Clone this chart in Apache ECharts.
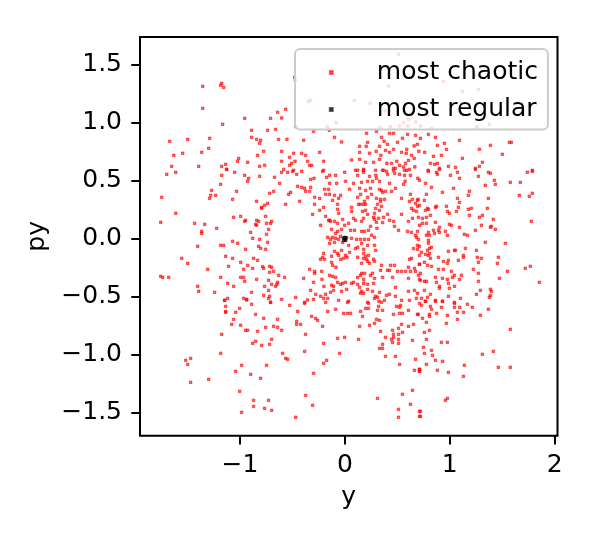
<!DOCTYPE html>
<html>
<head>
<meta charset="utf-8">
<script src="https://cdn.jsdelivr.net/npm/echarts@6/dist/echarts.min.js"></script>
<style>
  html, body { margin: 0; padding: 0; background: #fff; }
  #chart { width: 594px; height: 540px; }
</style>
</head>
<body>
<div id="chart"></div>
<script>
// axis limits and ticks
const xRange = [-1.954, 2.027];
const yRange = [-1.696, 1.741];
const xTicks = [-1, 0, 1, 2];
const yTicks = [-1.5, -1, -0.5, 0, 0.5, 1, 1.5];
const xName = 'y';
const yName = 'py';
const names = ['most chaotic', 'most regular'];

// most chaotic, top band (py > 0.6)
const chaoticTop = [
  [-1.356,1.316],[-1.175,1.342],[-1.185,1.325],[-1.156,1.307],[-1.356,1.126],[-0.956,1.040],[-0.642,1.092],
  [-0.709,1.040],[-1.166,0.989],[-0.890,0.937],[-0.737,0.937],[-0.661,0.945],[-0.890,0.876],[-0.842,0.859],
  [-0.804,0.851],[-0.813,0.825],[-0.633,0.859],[-1.671,0.842],[-1.499,0.859],[-1.290,0.868],[-1.299,0.782],
  [-1.366,0.747],[-1.547,0.739],[-1.632,0.721],[-0.775,0.756],[-0.833,0.721],[-1.013,0.695],[-1.023,0.670],
  [-0.928,0.661],[-1.137,0.644],[-1.175,0.626],[-1.128,0.600],[-1.394,0.626],[-1.652,0.626],[-0.813,0.626],
  [-0.766,0.635],
  [-0.479,1.394],[-0.473,1.368],[0.511,1.592],[0.416,1.420],[0.416,1.319],[-0.330,1.195],[-0.349,1.187],
  [0.089,1.195],[0.241,1.170],[0.384,1.103],[0.606,1.032],[0.632,1.080],[0.559,1.003],[-0.083,1.003],
  [-0.168,0.968],[0.336,0.960],[0.432,0.968],[0.521,0.974],[0.600,0.974],[0.676,1.009],[-0.467,0.968],
  [-0.565,1.118],[-0.603,1.043],[-0.553,0.859],[-0.394,0.851],[-0.299,0.928],[-0.149,0.937],[-0.099,0.876],
  [-0.032,0.836],[0.206,0.911],[0.301,0.928],[0.349,0.876],[0.425,0.911],[0.463,0.911],[0.501,0.833],
  [0.549,0.868],[0.597,0.902],[0.673,0.894],[0.692,0.816],[0.660,0.802],[0.590,0.773],[-0.603,0.756],
  [-0.489,0.739],[-0.413,0.739],[-0.375,0.721],[-0.527,0.704],[-0.241,0.747],[0.140,0.799],[0.216,0.833],
  [0.203,0.799],[0.330,0.799],[0.406,0.816],[0.374,0.842],[0.387,0.764],[0.425,0.747],[0.298,0.756],
  [0.140,0.747],[0.235,0.739],[0.343,0.721],[0.463,0.773],[0.540,0.747],[0.584,0.739],[0.635,0.721],
  [0.705,0.756],[-0.508,0.652],[-0.527,0.635],[-0.476,0.670],[-0.356,0.670],[-0.337,0.635],[-0.318,0.635],
  [-0.603,0.670],[-0.203,0.670],[0.063,0.681],[0.140,0.687],[0.197,0.661],[0.273,0.661],[0.330,0.687],
  [0.400,0.652],[0.444,0.652],[0.495,0.670],[0.578,0.652],[0.606,0.678],[0.521,0.635],[0.660,0.695],
  [0.667,0.621],[0.463,0.609],[0.559,0.621],[-0.584,0.600],[-0.489,0.592],[-0.203,0.592],[0.101,0.592],
  [0.178,0.600],[0.292,0.592],[0.368,0.592],[0.482,0.609],[0.590,0.592],
  [0.942,1.359],[1.238,1.411],[1.120,1.273],[1.273,1.290],[0.787,1.066],[0.723,0.974],[0.825,0.954],
  [1.257,0.966],[1.377,0.989],[0.720,0.868],[0.796,0.902],[0.863,0.876],[0.882,0.807],[0.949,0.825],
  [0.968,0.773],[0.761,0.747],[0.844,0.713],[0.920,0.721],[1.092,0.851],[1.282,0.773],[1.387,0.807],
  [1.501,0.730],[1.568,0.833],[1.587,0.833],[1.120,0.695],[1.311,0.661],[1.282,0.626],[1.244,0.609],
  [1.054,0.618],[0.987,0.626],[0.901,0.609],[0.882,0.652],[0.815,0.652],[0.854,0.644],[1.787,0.592],
  [0.793,0.592]
];

// most chaotic, middle band (-0.55 < py < 0.6)
const chaoticMid = [
  [-1.699,0.557],[-1.613,0.575],[-1.128,0.600],[-1.175,0.549],[-1.052,0.575],[-0.956,0.549],[-0.918,0.523],
  [-0.928,0.497],[-0.813,0.540],[-0.671,0.532],[-0.623,0.480],[-1.185,0.471],[-1.271,0.419],[-1.280,0.376],
  [-1.233,0.376],[-1.290,0.350],[-1.033,0.411],[-1.071,0.342],[-1.747,0.359],[-1.613,0.221],[-1.756,0.144],
  [-1.433,0.135],[-1.337,0.126],[-1.366,0.066],[-1.366,0.049],[-1.223,0.092],[-0.842,0.325],[-0.718,0.394],
  [-0.680,0.411],[-0.737,0.307],[-0.766,0.290],[-0.794,0.273],[-0.794,0.264],[-1.061,0.187],[-0.994,0.195],
  [-0.947,0.161],[-0.956,0.152],[-0.842,0.161],[-0.823,0.152],[-0.852,0.126],[-0.842,0.118],[-0.756,0.195],
  [-0.699,0.152],[-0.709,0.135],[-0.747,0.135],[-0.728,0.083],[-0.899,0.057],[-0.747,0.040],[-0.880,0.006],
  [-0.813,-0.003],[-0.737,-0.029],[-1.071,-0.020],[-1.023,-0.037],[-1.185,-0.055],[-1.156,-0.055],
  [-1.404,-0.063],[-0.947,-0.089],[-0.823,-0.063],[-0.804,-0.081],[-0.756,-0.089],[-1.556,-0.167],
  [-1.499,-0.210],[-1.137,-0.149],[-1.071,-0.167],[-0.871,-0.167],[-0.833,-0.184],[-0.994,-0.201],
  [-0.928,-0.227],[-1.109,-0.236],[-1.309,-0.262],[-0.966,-0.262],[-0.880,-0.253],[-0.785,-0.239],
  [-0.775,-0.253],[-0.718,-0.236],[-0.699,-0.244],[-0.680,-0.279],[-0.718,-0.287],[-0.633,-0.313],
  [-1.756,-0.322],[-1.737,-0.331],[-1.680,-0.331],[-1.185,-0.331],[-0.994,-0.331],[-0.966,-0.331],
  [-0.956,-0.365],[-0.842,-0.348],[-0.728,-0.356],[-0.642,-0.374],[-0.648,-0.391],[-0.661,-0.408],
  [-0.699,-0.391],[-0.766,-0.408],[-1.118,-0.382],[-1.061,-0.408],[-1.404,-0.408],[-1.394,-0.451],
  [-1.242,-0.460],[-0.890,-0.460],[-0.728,-0.443],[-0.775,-0.486],[-0.718,-0.494],[-0.728,-0.512],
  [-1.118,-0.512],[-1.147,-0.529],[-0.966,-0.512],[-0.937,-0.520],[-0.709,-0.546],
  [-0.603,0.575],[-0.546,0.575],[-0.499,0.583],[-0.460,0.557],[-0.413,0.583],[-0.295,0.523],[-0.327,0.514],
  [-0.213,0.583],[-0.146,0.549],[-0.175,0.532],[-0.089,0.549],[-0.003,0.575],[0.121,0.592],[0.121,0.549],
  [0.178,0.575],[0.235,0.540],[0.295,0.549],[0.301,0.523],[0.178,0.592],[0.330,0.497],[0.216,0.497],
  [0.159,0.488],[0.263,0.497],[0.082,0.480],[0.006,0.497],[-0.146,0.480],[-0.079,0.480],[0.359,0.592],
  [0.397,0.583],[0.406,0.557],[0.473,0.566],[0.521,0.557],[0.568,0.592],[0.568,0.549],[0.616,0.600],
  [0.625,0.549],[0.695,0.523],[0.574,0.497],[0.463,0.592],[0.425,0.480],[0.559,0.471],
  [-0.451,0.454],[-0.413,0.445],[-0.384,0.437],[-0.375,0.411],[-0.337,0.411],[-0.327,0.445],[-0.518,0.402],
  [-0.537,0.385],[-0.565,0.299],[-0.432,0.325],[-0.289,0.359],[-0.241,0.350],[-0.194,0.428],[-0.156,0.428],
  [-0.184,0.385],[-0.146,0.385],[-0.099,0.376],[-0.118,0.333],[-0.060,0.350],[-0.041,0.376],[0.044,0.428],
  [0.140,0.437],[0.149,0.385],[0.121,0.359],[0.197,0.419],[0.244,0.437],[0.254,0.385],[0.216,0.359],
  [0.187,0.325],[0.301,0.350],[0.340,0.342],[0.378,0.342],[0.330,0.428],[0.349,0.419],[0.359,0.402],
  [0.387,0.411],[0.444,0.411],[0.482,0.437],[0.540,0.350],[0.625,0.385],[0.644,0.342],[0.616,0.325],
  [0.692,0.333],[0.673,0.307],[0.711,0.290],
  [-0.289,0.299],[-0.241,0.247],[-0.203,0.273],[-0.308,0.213],[-0.184,0.195],[-0.146,0.161],[-0.070,0.299],
  [-0.070,0.256],[-0.060,0.221],[0.063,0.273],[0.063,0.238],[0.082,0.178],[0.130,0.299],[0.149,0.299],
  [0.178,0.299],[0.197,0.299],[0.168,0.238],[0.197,0.247],[0.216,0.213],[0.282,0.221],[0.292,0.264],
  [0.330,0.247],[0.311,0.299],[0.340,0.325],[0.349,0.282],[0.273,0.187],[0.321,0.178],[0.368,0.187],
  [0.406,0.213],[0.425,0.161],[0.540,0.213],[0.635,0.264],[0.654,0.247],[0.682,0.238],[0.692,0.282],
  [0.701,0.187],[0.644,0.178],[0.606,0.152],
  [-0.232,0.118],[-0.156,0.161],[-0.137,0.152],[-0.099,0.152],[-0.070,0.135],[-0.022,0.169],[-0.003,0.118],
  [0.035,0.135],[0.101,0.161],[0.159,0.152],[0.178,0.178],[0.244,0.109],[0.225,0.075],[0.282,0.169],
  [0.301,0.144],[0.305,0.092],[0.359,0.141],[0.463,0.152],[0.473,0.109],[0.511,0.075],[0.597,0.066],
  [0.635,0.057],[0.692,0.066],[0.711,0.118],[0.159,0.066],[0.187,0.066],[0.092,0.075],[0.054,0.075],
  [-0.032,0.083],[-0.070,0.066],[-0.127,0.083],[-0.089,0.049],[0.673,0.032],
  [-0.165,0.014],[-0.118,0.014],[-0.137,-0.003],[-0.089,0.006],[-0.099,-0.029],[-0.146,-0.037],[-0.041,0.023],
  [-0.060,-0.003],[-0.022,-0.029],[0.035,-0.055],[0.063,0.006],[0.111,-0.003],[0.149,-0.003],[0.187,-0.003],
  [0.225,-0.003],[0.254,0.032],[0.282,0.014],[0.159,-0.037],[0.121,-0.072],[0.101,-0.083],[0.178,-0.089],
  [0.216,-0.055],[0.282,-0.055],[0.292,-0.098],[0.178,-0.124],[0.197,-0.149],[0.225,-0.141],[0.121,-0.158],
  [0.044,-0.115],[-0.032,-0.098],[-0.070,-0.124],[-0.060,-0.141],[0.006,-0.141],[-0.099,-0.106],
  [-0.127,-0.149],[-0.203,-0.124],[-0.213,-0.158],[-0.232,-0.175],[-0.194,-0.175],[0.682,0.014],
  [0.701,-0.003],[0.692,-0.055],[0.692,-0.089],[0.654,-0.083],[0.711,-0.063],
  [-0.127,-0.201],[-0.118,-0.227],[-0.086,-0.244],[-0.041,-0.175],[-0.013,-0.167],[0.019,-0.158],
  [0.273,-0.175],[0.282,-0.193],[0.216,-0.193],[0.178,-0.167],[0.206,-0.175],[0.159,-0.210],[0.235,-0.210],
  [0.349,-0.227],[0.435,-0.227],[0.473,-0.227],[0.340,-0.270],[0.425,-0.270],[0.616,-0.175],[0.635,-0.167],
  [0.606,-0.244],[0.663,-0.253],[0.711,-0.218],[0.673,-0.279],[0.578,-0.279],[0.540,-0.279],[0.501,-0.279],
  [-0.337,-0.262],[-0.289,-0.279],[-0.289,-0.296],[-0.222,-0.279],
  [-0.575,-0.331],[-0.394,-0.339],[-0.299,-0.374],[-0.219,-0.348],[-0.146,-0.313],[-0.118,-0.322],
  [-0.089,-0.331],[0.149,-0.313],[0.159,-0.296],[0.187,-0.296],[0.244,-0.313],[0.263,-0.296],[0.121,-0.331],
  [0.178,-0.348],[0.282,-0.339],[0.359,-0.331],[0.406,-0.270],[0.454,-0.331],[0.606,-0.339],[0.625,-0.279],
  [0.701,-0.313],[0.711,-0.348],[-0.022,-0.382],[0.006,-0.374],[0.063,-0.382],[0.082,-0.374],[0.121,-0.391],
  [0.178,-0.382],[0.216,-0.391],[0.273,-0.382],[-0.070,-0.374],[-0.041,-0.391],[-0.127,-0.399],
  [-0.108,-0.408],[-0.200,-0.408],
  [-0.327,-0.443],[-0.279,-0.477],[-0.232,-0.494],[-0.184,-0.477],[-0.137,-0.460],[-0.108,-0.443],
  [-0.032,-0.451],[0.016,-0.434],[0.140,-0.417],[0.159,-0.451],[0.149,-0.468],[0.178,-0.468],[0.216,-0.434],
  [0.263,-0.451],[0.292,-0.494],[0.311,-0.503],[0.330,-0.460],[0.397,-0.486],[0.425,-0.477],[0.482,-0.417],
  [0.606,-0.451],[0.663,-0.443],[0.692,-0.468],[-0.603,-0.520],[-0.470,-0.503],[-0.384,-0.546],
  [-0.299,-0.520],[-0.203,-0.512],[-0.165,-0.512],[-0.060,-0.529],[0.035,-0.537],[0.216,-0.546],
  [0.282,-0.512],[0.324,-0.537],[0.349,-0.546],[0.378,-0.529],[0.482,-0.494],[0.540,-0.529],[0.616,-0.529],
  [0.682,-0.512],
  [0.796,0.583],[0.873,0.575],[0.882,0.557],[0.901,0.600],[1.006,0.549],[1.073,0.575],[1.092,0.523],
  [1.244,0.600],[1.273,0.540],[1.368,0.575],[1.387,0.566],[1.425,0.506],[1.434,0.471],[1.339,0.463],
  [1.577,0.488],[1.673,0.488],[1.739,0.575],[1.787,0.583],[0.711,0.506],[0.768,0.480],[0.825,0.445],
  [0.930,0.402],[1.035,0.437],[1.187,0.411],[1.177,0.376],[1.073,0.350],[1.092,0.316],[1.368,0.350],
  [1.663,0.376],[1.758,0.368],[1.787,0.394],[0.777,0.385],[0.698,0.342],[0.758,0.333],[0.787,0.264],
  [0.768,0.247],[0.796,0.256],[0.863,0.273],[0.873,0.282],[0.968,0.282],[0.977,0.238],[0.996,0.221],
  [1.063,0.238],[1.082,0.273],[1.177,0.256],[1.206,0.264],[1.187,0.204],[1.358,0.264],[1.311,0.204],
  [1.282,0.187],[1.415,0.169],[1.777,0.152],[0.739,0.178],[0.815,0.204],[0.777,0.187],[0.863,0.144],
  [0.739,0.135],[0.777,0.135],[0.996,0.126],[1.015,0.118],[0.901,0.101],[0.892,0.075],[0.844,0.075],
  [0.958,0.066],[0.901,0.057],[0.977,0.032],[0.796,0.057],[0.777,0.032],[0.806,0.032],[0.796,-0.012],
  [0.796,-0.037],[0.854,0.049],[1.092,0.101],[1.139,0.040],[1.168,0.032],[1.244,0.075],[1.301,0.118],
  [1.387,0.101],[1.396,0.109],[1.434,0.083],[1.339,-0.029],[1.530,-0.037],[0.825,-0.072],[0.806,-0.081],
  [0.787,-0.098],[0.730,-0.115],[0.711,-0.141],[0.768,-0.132],[0.796,-0.141],[0.806,-0.124],[0.815,-0.167],
  [0.987,-0.106],[1.044,-0.098],[1.054,-0.098],[1.130,-0.141],[1.130,-0.158],[1.149,-0.081],[1.254,-0.098],
  [1.263,-0.158],[1.301,-0.167],[1.463,-0.158],[1.454,-0.210],[1.273,-0.201],[1.225,-0.262],[0.758,-0.201],
  [0.711,-0.218],[0.787,-0.227],[0.825,-0.236],[0.892,-0.158],[0.939,-0.193],[0.987,-0.184],[0.977,-0.210],
  [1.082,-0.184],[0.892,-0.262],[0.939,-0.262],[1.015,-0.279],[1.044,-0.313],[1.111,-0.313],[1.025,-0.331],
  [0.977,-0.348],[0.930,-0.339],[0.863,-0.331],[0.720,-0.296],[0.720,-0.356],[0.758,-0.365],[0.777,-0.365],
  [0.873,-0.374],[0.987,-0.382],[1.044,-0.408],[1.092,-0.348],[0.901,-0.408],[0.901,-0.425],[0.996,-0.425],
  [1.273,-0.296],[1.273,-0.365],[1.473,-0.339],[1.549,-0.279],[1.720,-0.253],[1.768,-0.236],[1.854,-0.374],
  [0.758,-0.443],[0.815,-0.477],[0.787,-0.503],[0.730,-0.512],[0.863,-0.529],[0.930,-0.537],[0.987,-0.494],
  [1.101,-0.512],[1.254,-0.477],[1.292,-0.443],[1.387,-0.434],[1.396,-0.451],[1.387,-0.486],[1.377,-0.503],
  [1.044,-0.546],[0.768,-0.537]
];

// most chaotic, bottom band (py < -0.52)
const chaoticLow = [
  [-1.147,-0.529],[-1.137,-0.581],[-1.137,-0.624],[-1.137,-0.632],[-1.004,-0.598],[-1.042,-0.632],
  [-0.890,-0.563],[-0.937,-0.526],[-0.709,-0.546],[-0.852,-0.650],[-0.775,-0.684],[-0.642,-0.693],
  [-1.061,-0.693],[-1.080,-0.736],[-0.994,-0.744],[-0.947,-0.787],[-0.928,-0.787],[-0.833,-0.796],
  [-0.756,-0.762],[-0.680,-0.753],[-0.642,-0.762],[-0.699,-0.865],[-0.718,-0.908],[-0.794,-0.917],
  [-0.852,-0.882],[-0.880,-0.900],[-1.175,-0.822],[-1.185,-0.986],[-1.518,-1.046],[-1.471,-1.029],
  [-1.499,-1.081],[-0.985,-1.089],[-0.747,-1.089],[-1.042,-1.141],[-0.899,-1.167],[-0.804,-1.201],
  [-1.299,-1.210],[-1.471,-1.236],[-1.004,-1.313],[-0.871,-1.391],[-0.728,-1.391],[-0.871,-1.443],
  [-0.766,-1.460],[-0.699,-1.477],[-0.985,-1.494],
  [-0.527,-0.572],[-0.384,-0.555],[-0.356,-0.526],[-0.184,-0.546],[0.025,-0.546],[-0.451,-0.624],
  [-0.318,-0.667],[-0.279,-0.684],[-0.260,-0.701],[-0.165,-0.624],[-0.089,-0.606],[-0.013,-0.641],
  [0.025,-0.641],[0.054,-0.641],[0.149,-0.624],[0.168,-0.667],[0.197,-0.598],[0.225,-0.598],[0.225,-0.555],
  [0.321,-0.581],[0.311,-0.615],[0.359,-0.615],[0.463,-0.650],[0.492,-0.581],[0.521,-0.589],[0.530,-0.572],
  [0.521,-0.641],[0.549,-0.641],[0.606,-0.615],[0.692,-0.650],[-0.460,-0.710],[-0.460,-0.736],
  [-0.422,-0.736],[-0.213,-0.753],[-0.603,-0.787],[-0.375,-0.822],[-0.070,-0.856],[-0.003,-0.848],
  [0.130,-0.865],[0.140,-0.753],[0.235,-0.744],[0.282,-0.727],[0.301,-0.693],[0.330,-0.701],[0.540,-0.736],
  [0.606,-0.753],[0.654,-0.736],[0.340,-0.796],[0.454,-0.787],[0.511,-0.770],[0.549,-0.805],[0.463,-0.822],
  [0.463,-0.848],[0.511,-0.822],[0.387,-0.848],[0.444,-0.865],[0.511,-0.865],[0.454,-0.891],[0.511,-0.900],
  [0.644,-0.874],[-0.203,-0.900],[0.359,-0.908],[0.330,-0.943],[0.359,-0.943],[-0.384,-0.969],
  [-0.594,-0.986],[-0.051,-0.986],[-0.565,-1.029],[-0.546,-1.037],[-0.175,-1.046],[-0.203,-1.072],
  [0.387,-1.012],[0.482,-1.012],[0.521,-1.081],[0.673,-1.037],[0.663,-1.132],[0.711,-1.124],[0.711,-1.141],
  [-0.299,-1.158],[0.644,-1.305],[0.549,-1.339],[0.311,-1.374],[-0.375,-1.348],[-0.308,-1.434],
  [0.625,-1.425],[0.511,-1.469],[0.711,-1.486],[-0.470,-1.537],[0.511,-1.537],[0.711,-1.529],
  [0.711,-0.555],[0.730,-0.572],[0.768,-0.537],[0.863,-0.537],[0.930,-0.537],[0.815,-0.581],[0.825,-0.606],
  [0.920,-0.589],[1.044,-0.555],[1.044,-0.589],[1.095,-0.589],[1.168,-0.563],[1.215,-0.589],[1.368,-0.606],
  [1.073,-0.632],[1.130,-0.632],[1.292,-0.658],[0.698,-0.650],[0.806,-0.650],[0.806,-0.667],[0.873,-0.641],
  [0.977,-0.658],[0.739,-0.684],[0.777,-0.719],[0.968,-0.727],[1.073,-0.693],[1.577,-0.779],[0.758,-0.805],
  [0.806,-0.787],[0.777,-0.865],[0.920,-0.891],[0.977,-0.891],[0.749,-0.934],[0.825,-0.960],[0.758,-0.986],
  [0.835,-1.003],[0.863,-1.046],[0.930,-1.055],[1.311,-0.994],[1.415,-0.969],[0.777,-1.081],[0.711,-1.124],
  [0.711,-1.141],[0.882,-1.132],[0.987,-1.150],[1.139,-1.089],[1.130,-1.184],[1.463,-1.106],[1.577,-1.106],
  [0.977,-1.374],[0.958,-1.391],[0.720,-1.486],[0.720,-1.529]
];

// most regular: a tight clump at the origin
const regular = [[0, 0], [0.015, 0.01], [-0.014, 0.008], [0.008, -0.013], [-0.01, -0.012], [0, 0.014]];

const chaotic = chaoticTop.concat(chaoticMid, chaoticLow);

const font = 'DejaVu Sans';
const minus = v => (v < 0 ? '\u2212' : '') + Math.abs(v);

const chart = echarts.init(document.getElementById('chart'), null, { renderer: 'canvas' });
chart.setOption({
  animation: false,
  backgroundColor: '#fff',
  textStyle: { fontFamily: font },
  grid: {
    left: 140, top: 37, right: 36.5, bottom: 104.3,
    show: true, borderColor: '#000', borderWidth: 2, backgroundColor: 'transparent'
  },
  legend: {
    data: names,
    orient: 'vertical',
    left: 295, top: 49,
    icon: 'rect',
    itemWidth: 3, itemHeight: 3,
    itemGap: 12,
    padding: [11, 10, 7.6, 33.8],
    backgroundColor: 'rgba(255,255,255,0.8)',
    borderColor: '#cccccc', borderWidth: 2, borderRadius: 5,
    textStyle: { fontFamily: font, fontSize: 25, lineHeight: 25, color: '#000', padding: [0, 0, 0, 39] }
  },
  xAxis: {
    type: 'value', min: xRange[0], max: xRange[1],
    name: xName, nameLocation: 'middle', nameGap: 49,
    nameTextStyle: { fontFamily: font, fontSize: 25, color: '#000' },
    axisLine: { show: false, onZero: false },
    splitLine: { show: false },
    axisTick: { show: true, length: 8.75, lineStyle: { color: '#000', width: 2 }, customValues: xTicks },
    axisLabel: { customValues: xTicks, formatter: minus, fontSize: 25, color: '#000', margin: 17, fontFamily: font }
  },
  yAxis: {
    type: 'value', min: yRange[0], max: yRange[1],
    name: yName, nameLocation: 'middle', nameGap: 84,
    nameTextStyle: { fontFamily: font, fontSize: 25, color: '#000' },
    axisLine: { show: false, onZero: false },
    splitLine: { show: false },
    axisTick: { show: true, length: 8.75, lineStyle: { color: '#000', width: 2 }, customValues: yTicks },
    axisLabel: {
      customValues: yTicks, fontSize: 25, color: '#000', margin: 18, fontFamily: font,
      formatter: v => (v < 0 ? '\u2212' : '') + Math.abs(v).toFixed(1)
    }
  },
  series: [
    {
      name: names[0], type: 'scatter', data: chaotic,
      symbol: 'rect', symbolSize: 2.5,
      itemStyle: { color: 'rgba(255,0,0,0.72)', borderColor: 'rgba(255,0,0,0.72)', borderWidth: 1 }
    },
    {
      name: names[1], type: 'scatter', data: regular,
      symbol: 'rect', symbolSize: 2.5,
      itemStyle: { color: 'rgba(0,0,0,0.75)', borderColor: 'rgba(0,0,0,0.75)', borderWidth: 1 }
    }
  ]
});
</script>
</body>
</html>
